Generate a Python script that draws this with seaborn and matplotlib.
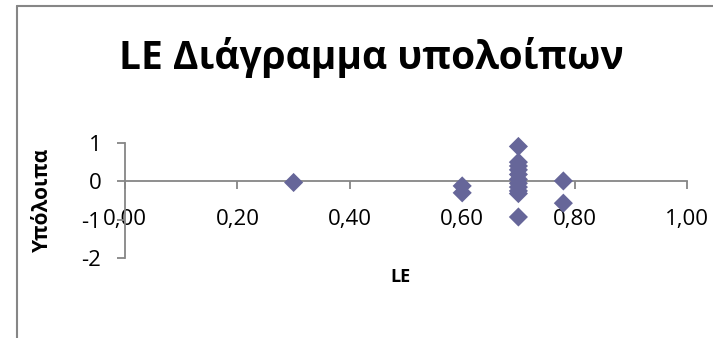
import matplotlib
matplotlib.use("Agg")
import matplotlib.pyplot as plt
import seaborn as sns
import pandas as pd
from matplotlib.lines import Line2D
from matplotlib.ticker import FuncFormatter

# Data
le_values = [0.30, 0.60, 0.60, 0.70, 0.70, 0.70, 0.70, 0.70, 0.70, 0.70, 0.70, 0.70, 0.70, 0.70, 0.78, 0.78]
residuals = [-0.03, -0.12, -0.30, 0.91, 0.50, 0.40, 0.30, 0.18, 0.05, -0.05, -0.15, -0.25, -0.32, -0.93, 0.01, -0.57]
x_ticks = [0.0, 0.2, 0.4, 0.6, 0.8, 1.0]
y_ticks = [-2, -1, 0, 1]
title = "LE Διάγραμμα υπολοίπων"
x_label = "LE"
y_label = "Υπόλοιπα"

sns.set_style("white")
plt.rcParams['font.family'] = ['Open Sans', 'DejaVu Sans']
plt.rcParams['text.color'] = 'black'

W, H = 713, 338
fig = plt.figure(figsize=(W / 100, H / 100), dpi=100)
fig.patch.set_facecolor("white")

ax = fig.add_axes([125 / W, (H - 258) / H, (687 - 125) / W, (258 - 143) / H])
ax.set_facecolor("none")

df = pd.DataFrame({"LE": le_values, "res": residuals})
sns.scatterplot(data=df, x="LE", y="res", ax=ax, marker="D", s=95,
                color="#666699", edgecolor="none", linewidth=0, zorder=3, clip_on=False)

ax.set_xlim(0, 1.0)
ax.set_ylim(-2, 1)
ax.set_xticks(x_ticks)
ax.set_yticks(y_ticks)
ax.xaxis.set_major_formatter(FuncFormatter(lambda v, p: f"{v:.2f}".replace(".", ",")))
ax.yaxis.set_major_formatter(FuncFormatter(lambda v, p: f"{int(round(v))}"))

grey = "#868686"
for s in ["top", "right"]:
    ax.spines[s].set_visible(False)
ax.spines["bottom"].set_position(("data", 0))
ax.spines["left"].set_position(("data", 0))
for s in ["bottom", "left"]:
    ax.spines[s].set_color(grey)
    ax.spines[s].set_linewidth(1.3)

ax.tick_params(axis="x", bottom=True, direction="out", length=6, width=1.3, color=grey,
               pad=14, labelsize=16, labelcolor="black")
ax.tick_params(axis="y", left=True, direction="out", length=6, width=1.3, color=grey,
               pad=11, labelsize=16, labelcolor="black")
ax.set_xlabel("")
ax.set_ylabel("")

fig.text(371 / W, (H - 57) / H, title, ha="center", va="center",
         fontsize=28, fontweight="bold", color="black")
fig.text(400 / W, (H - 277) / H, x_label, ha="center", va="center",
         fontsize=13, fontweight="bold", color="black")
fig.text(42 / W, (H - 200) / H, y_label, ha="center", va="center",
         rotation=90, fontsize=15, fontweight="bold", color="black")

# chart-area border (top and left visible)
fig.add_artist(Line2D([17 / W, 1.0], [(H - 6) / H, (H - 6) / H], color=grey, linewidth=1.5,
                      transform=fig.transFigure))
fig.add_artist(Line2D([17 / W, 17 / W], [(H - 6) / H, 0], color=grey, linewidth=1.5,
                      transform=fig.transFigure))

fig.savefig("out.png", dpi=100)
